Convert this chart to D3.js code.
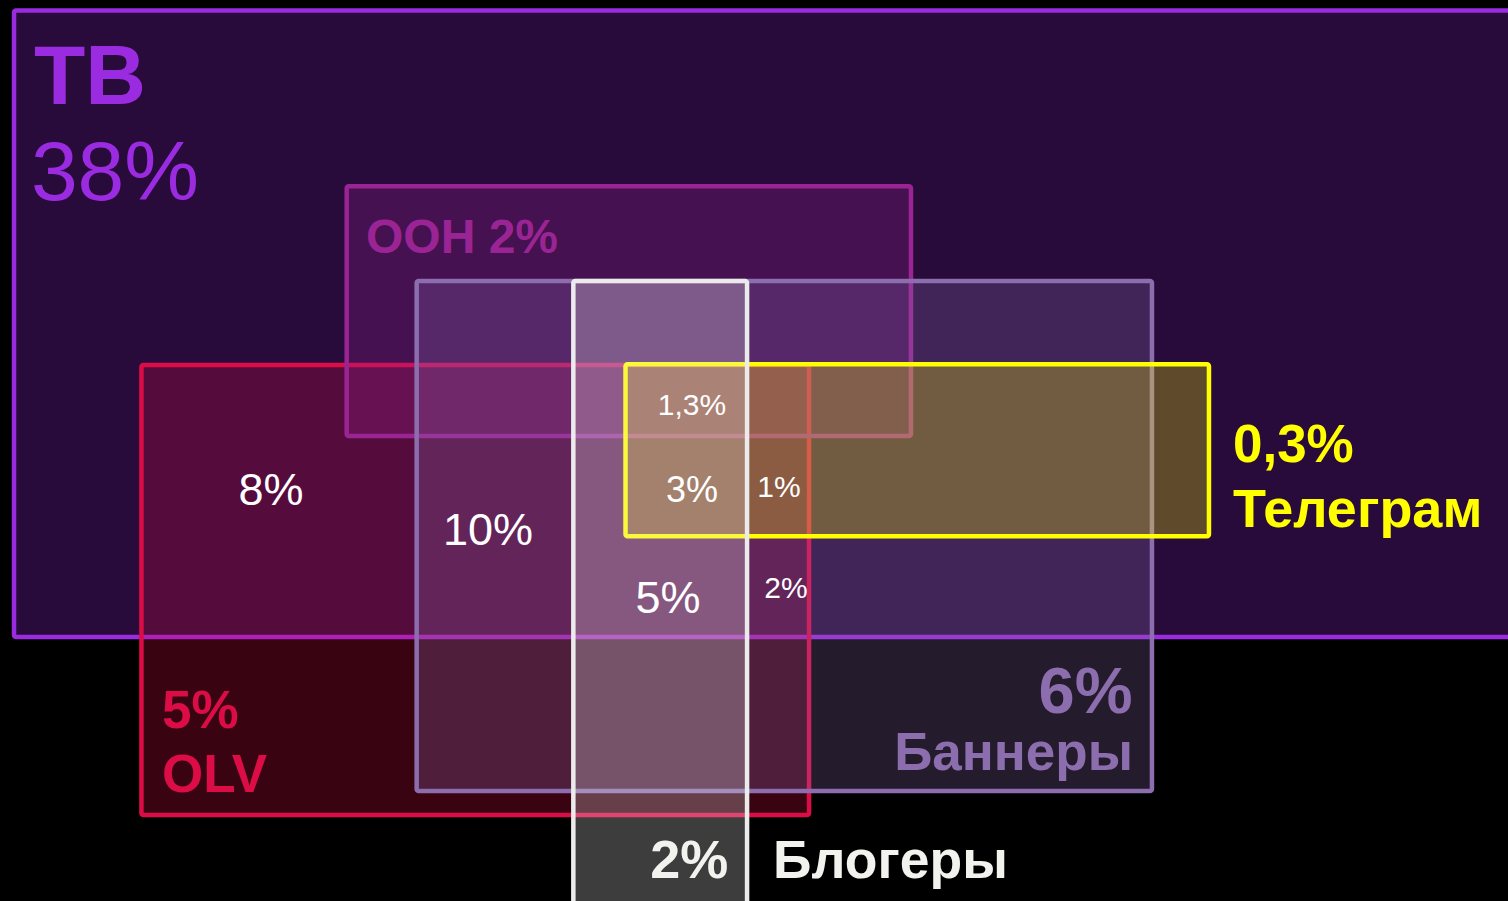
<!DOCTYPE html>
<html>
<head>
<meta charset="utf-8">
<script src="https://cdn.jsdelivr.net/npm/d3@7"></script>
<style>
  html, body { margin: 0; padding: 0; background: #000; }
  svg { display: block; }
  text { font-family: "Liberation Sans", Arial, sans-serif; }
</style>
</head>
<body>
<svg id="chart"></svg>
<script>
// channels, drawn back to front
var channels = ['ТВ', 'OLV', 'OOH', 'Баннеры', 'Телеграм', 'Блогеры'];
var shares = ['38%', '5%', '2%', '6%', '0,3%', '2%'];
var colors = ['#9b2be0', '#dc0c46', '#9b2494', '#8c6eaf', '#ffff00', '#ebebeb'];

// box extents on a 0..100 grid: [x0, x1, y0, y1]
var boxes = [
    [0.93, 101, 1.17, 70.7],
    [9.38, 53.65, 40.51, 90.46],
    [22.99, 60.41, 20.68, 48.39],
    [27.63, 76.39, 31.19, 87.79],
    [41.48, 80.17, 40.43, 59.52],
    [38.02, 49.54, 31.19, 101]
];

// overlap values and where they sit (grid x centre, grid baseline, font px)
var overlaps = ['8%', '10%', '5%', '1,3%', '3%', '1%', '2%'];
var overlapPos = [
    [17.97, 56.05, 45],
    [32.36, 60.49, 45],
    [44.30, 68.04, 45],
    [45.89, 46.06, 30],
    [45.89, 55.72, 36],
    [51.66, 55.16, 30],
    [52.12, 66.37, 30]
];

var W = 1508, H = 901;
var svg = d3.select('#chart').attr('width', W).attr('height', H);

var x = d3.scaleLinear().domain([0, 100]).range([0, W]);
var y = d3.scaleLinear().domain([0, 100]).range([0, H]);

svg.append('rect').attr('width', W).attr('height', H).attr('fill', '#000');

svg.selectAll('rect.box')
    .data(boxes)
    .enter().append('rect')
    .attr('class', 'box')
    .attr('x', function(d) { return x(d[0]); })
    .attr('y', function(d) { return y(d[2]); })
    .attr('width', function(d) { return x(d[1]) - x(d[0]); })
    .attr('height', function(d) { return y(d[3]) - y(d[2]); })
    .attr('rx', 2)
    .attr('fill', function(d, i) { return colors[i]; })
    .attr('fill-opacity', 0.26)
    .attr('stroke', function(d, i) { return colors[i]; })
    .attr('stroke-width', 4.5);

// channel labels: [channel index, text, grid x, grid baseline, size, weight, anchor]
var labels = [
    [0, channels[0], 2.25, 11.54, 84, 'bold', 'start'],
    [0, shares[0], 2.05, 22.2, 84, 'normal', 'start'],
    [2, 'OOH ' + shares[2], 24.27, 28.08, 48, 'bold', 'start'],
    [1, shares[1], 10.75, 80.8, 53, 'bold', 'start'],
    [1, channels[1], 10.75, 87.9, 53, 'bold', 'start'],
    [3, shares[3], 75.1, 79.13, 65, 'bold', 'end'],
    [3, channels[3], 75.13, 85.46, 53, 'bold', 'end'],
    [5, shares[5], 48.3, 97.45, 54, 'bold', 'end'],
    [5, channels[5], 51.26, 97.45, 53.5, 'bold', 'start'],
    [4, shares[4], 81.76, 51.28, 53, 'bold', 'start'],
    [4, channels[4], 81.76, 58.49, 54, 'bold', 'start']
];

svg.selectAll('text.label')
    .data(labels)
    .enter().append('text')
    .attr('class', 'label')
    .attr('x', function(d) { return x(d[2]); })
    .attr('y', function(d) { return y(d[3]); })
    .attr('font-size', function(d) { return d[4]; })
    .attr('font-weight', function(d) { return d[5]; })
    .attr('text-anchor', function(d) { return d[6]; })
    .attr('fill', function(d) { return d[0] === 5 ? '#f2f2ee' : colors[d[0]]; })
    .text(function(d) { return d[1]; });

svg.selectAll('text.overlap')
    .data(overlaps)
    .enter().append('text')
    .attr('class', 'overlap')
    .attr('x', function(d, i) { return x(overlapPos[i][0]); })
    .attr('y', function(d, i) { return y(overlapPos[i][1]); })
    .attr('font-size', function(d, i) { return overlapPos[i][2]; })
    .attr('text-anchor', 'middle')
    .attr('fill', '#fff')
    .text(function(d) { return d; });
</script>
</body>
</html>
